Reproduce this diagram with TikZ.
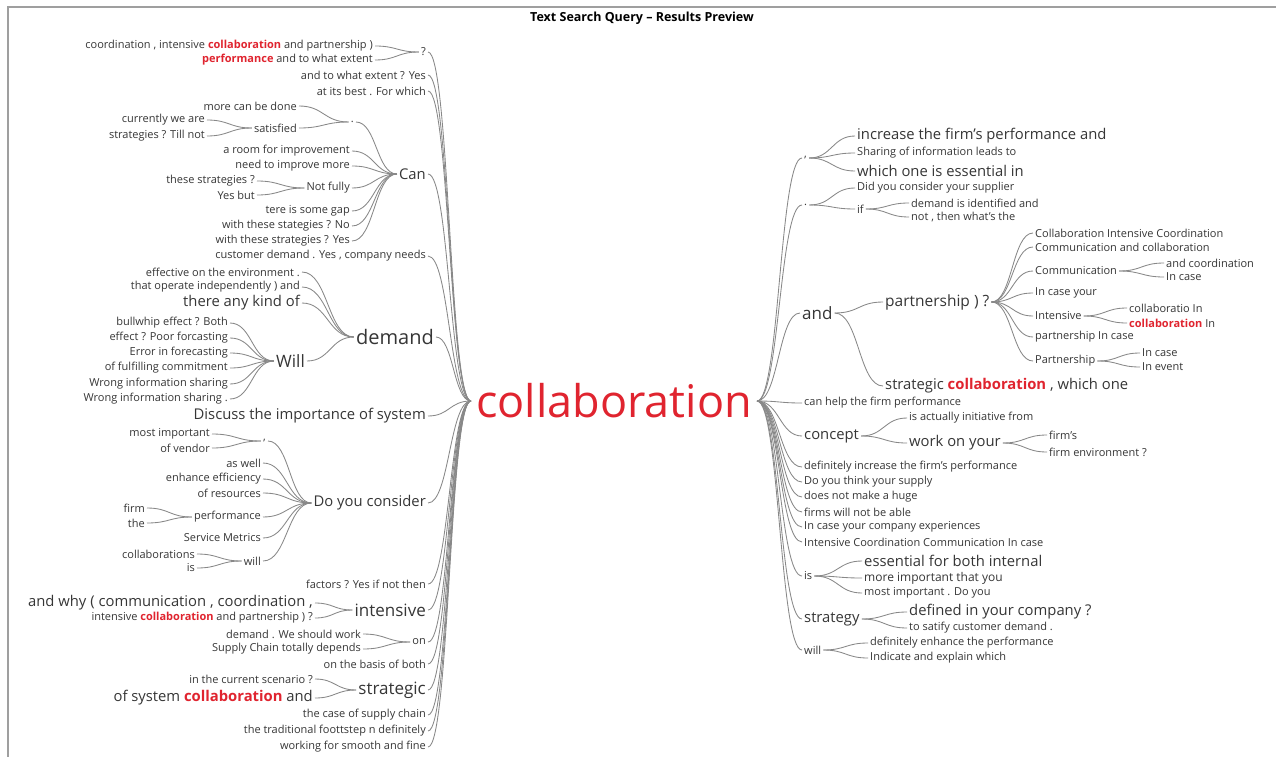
\documentclass[tikz,border=0pt]{standalone}
\usepackage{fontspec}
\setmainfont{Open Sans}
\usetikzlibrary{calc}
\definecolor{ink}{HTML}{363636}
\definecolor{hot}{HTML}{E0242F}
\definecolor{wire}{HTML}{888888}
\newcommand\hit[1]{{\color{hot}\bfseries #1}}
\begin{document}
\begin{tikzpicture}[x=1pt, y=-1pt,
    every node/.style={inner sep=2pt, text=ink, font=\fontsize{11}{13}\selectfont},
    sb/.style={font=\fontsize{12}{14}\selectfont},
    sc/.style={font=\fontsize{14.8}{17}\selectfont},
    sd/.style={font=\fontsize{17}{19}\selectfont},
    se/.style={font=\fontsize{20}{22}\selectfont},
    lt/.style={anchor=east}, rt/.style={anchor=west},
    tree/.style={every edge/.style={draw=wire, line width=.85pt,
      to path={.. controls ($(\tikztostart)!.5!(\tikztostart-|\tikztotarget)$) and ($(\tikztotarget)!.5!(\tikztotarget-|\tikztostart)$) .. (\tikztotarget)}}}]
  \useasboundingbox (0,0) rectangle (1276,757);
  \fill[white] (0,0) rectangle (1276,757);
  \draw[gray!75, line width=1.5pt] (8,757) -- (8,7) -- (1276,7);
  \node[font=\bfseries\fontsize{12.5}{14}\selectfont, text=black] (title) at (642,18) {Text Search Query -- Results Preview};
  % root
  \node[text=hot, inner sep=5pt, font=\fontsize{45}{50}\selectfont] (root) at (614,401) {collaboration};

  % left side, first level
  \node[lt] (q) at (428,52) {?};
  \node[lt] (l2) at (428,75) {and to what extent ? Yes};
  \node[lt] (l3) at (428,91) {at its best . For which};
  \node[lt,sc] (can) at (428,174) {Can};
  \node[lt] (l5) at (428,256) {customer demand . Yes , company needs};
  \node[lt,se] (dem) at (436,337) {demand};
  \node[lt,sc] (l7) at (428,416) {Discuss the importance of system};
  \node[lt,sc] (dyc) at (428,503) {Do you consider};
  \node[lt] (l9) at (428,584) {factors ? Yes if not then};
  \node[lt,sd] (int) at (428,610) {intensive};
  \node[lt] (on) at (428,642) {on};
  \node[lt] (l12) at (428,664) {on the basis of both};
  \node[lt,sd] (str) at (428,690) {strategic};
  \node[lt] (l14) at (428,715) {the case of supply chain};
  \node[lt] (l15) at (428,731) {the traditional foottstep n definitely};
  \node[lt] (l16) at (428,747) {working for smooth and fine};
  \path[tree] (root.west) edge (q.east) edge (l2.east) edge (l3.east) edge (can.east)
    edge (l5.east) edge (dem.east) edge (l7.east) edge (dyc.east) edge (l9.east)
    edge (int.east) edge (on.east) edge (l12.east) edge (str.east) edge (l14.east)
    edge (l15.east) edge (l16.east);

  % under ?
  \node[lt] (q1) at (375,46) {coordination , intensive \hit{collaboration} and partnership )};
  \node[lt] (q2) at (375,60) {\hit{performance} and to what extent};
  \path[tree] (q.west) edge (q1.east) edge (q2.east);

  % under Can
  \node[lt] (dot) at (356,122) {.};
  \node[lt] (c2) at (352,151) {a room for improvement};
  \node[lt] (c3) at (352,166) {need to improve more};
  \node[lt] (nf) at (352,188) {Not fully};
  \node[lt] (c5) at (352,211) {tere is some gap};
  \node[lt] (c6) at (352,226) {with these stategies ? No};
  \node[lt] (c7) at (352,241) {with these strategies ? Yes};
  \path[tree] (can.west) edge (dot.east) edge (c2.east) edge (c3.east) edge (nf.east)
    edge (c5.east) edge (c6.east) edge (c7.east);
  \node[lt] (d1) at (299,106) {more can be done};
  \node[lt] (sat) at (299,128) {satisfied};
  \path[tree] (dot.west) edge (d1.east) edge (sat.east);
  \node[lt] (s1) at (207,120) {currently we are};
  \node[lt] (s2) at (207,136) {strategies ? Till not};
  \path[tree] (sat.west) edge (s1.east) edge (s2.east);
  \node[lt] (n1) at (257,181) {these strategies ?};
  \node[lt] (n2) at (257,195) {Yes but};
  \path[tree] (nf.west) edge (n1.east) edge (n2.east);

  % under demand
  \node[lt] (m1) at (302,272) {effective on the environment .};
  \node[lt] (m2) at (302,287) {that operate independently ) and};
  \node[lt,sc] (m3) at (302,303) {there any kind of};
  \node[lt,sd] (will) at (307,361) {Will};
  \path[tree] (dem.west) edge (m1.east) edge (m2.east) edge (m3.east) edge (will.east);
  \node[lt] (w1) at (230,323) {bullwhip effect ? Both};
  \node[lt] (w2) at (230,338) {effect ? Poor forcasting};
  \node[lt] (w3) at (230,353) {Error in forecasting};
  \node[lt] (w4) at (230,368) {of fulfilling commitment};
  \node[lt] (w5) at (230,384) {Wrong information sharing};
  \node[lt] (w6) at (230,399) {Wrong information sharing .};
  \path[tree] (will.west) edge (w1.east) edge (w2.east) edge (w3.east) edge (w4.east)
    edge (w5.east) edge (w6.east);

  % under Do you consider
  \node[lt] (cm) at (268,441) {,};
  \node[lt] (y2) at (263,463) {as well};
  \node[lt] (y3) at (263,479) {enhance efficiency};
  \node[lt] (y4) at (263,493) {of resources};
  \node[lt] (perf) at (263,517) {performance};
  \node[lt] (y6) at (263,538) {Service Metrics};
  \node[lt] (wl) at (263,561) {will};
  \path[tree] (dyc.west) edge (cm.east) edge (y2.east) edge (y3.east) edge (y4.east)
    edge (perf.east) edge (y6.east) edge (wl.east);
  \node[lt] (k1) at (212,434) {most important};
  \node[lt] (k2) at (212,448) {of vendor};
  \path[tree] (cm.west) edge (k1.east) edge (k2.east);
  \node[lt] (p1) at (147,508) {firm};
  \node[lt] (p2) at (147,523) {the};
  \path[tree] (perf.west) edge (p1.east) edge (p2.east);
  \node[lt] (v1) at (197,554) {collaborations};
  \node[lt] (v2) at (197,568) {is};
  \path[tree] (wl.west) edge (v1.east) edge (v2.east);

  % under intensive, on, strategic
  \node[lt,sc] (i1) at (315,603) {and why ( communication , coordination ,};
  \node[lt] (i2) at (315,618) {intensive \hit{collaboration} and partnership ) ?};
  \path[tree] (int.west) edge (i1.east) edge (i2.east);
  \node[lt] (o1) at (363,634) {demand . We should work};
  \node[lt] (o2) at (363,649) {Supply Chain totally depends};
  \path[tree] (on.west) edge (o1.east) edge (o2.east);
  \node[lt] (t1) at (315,679) {in the current scenario ?};
  \node[lt,sc] (t2) at (315,698) {of system \hit{collaboration} and};
  \path[tree] (str.west) edge (t1.east) edge (t2.east);

  % right side, first level
  \node[rt] (cmr) at (802,158) {,};
  \node[rt] (dtr) at (802,205) {.};
  \node[rt,sd] (and) at (800,313) {and};
  \node[rt] (r4) at (802,403) {can help the firm performance};
  \node[rt,sc] (con) at (802,436) {concept};
  \node[rt] (r6) at (802,467) {definitely increase the firm's performance};
  \node[rt] (r7) at (802,482) {Do you think your supply};
  \node[rt] (r8) at (802,497) {does not make a huge};
  \node[rt] (r9) at (802,512) {firms will not be able};
  \node[rt] (r10) at (802,527) {In case your company experiences};
  \node[rt] (r11) at (802,542) {Intensive Coordination Communication In case};
  \node[rt] (is) at (802,576) {is};
  \node[rt,sc] (sty) at (802,619) {strategy};
  \node[rt] (wil) at (802,650) {will};
  \path[tree] (root.east) edge (cmr.west) edge (dtr.west) edge (and.west) edge (r4.west)
    edge (con.west) edge (r6.west) edge (r7.west) edge (r8.west) edge (r9.west)
    edge (r10.west) edge (r11.west) edge (is.west) edge (sty.west) edge (wil.west);

  % under , and .
  \node[rt,sc] (a1) at (855,136) {increase the firm's performance and};
  \node[rt] (a2) at (855,153) {Sharing of information leads to};
  \node[rt,sc] (a3) at (855,171) {which one is essential in};
  \path[tree] (cmr.east) edge (a1.west) edge (a2.west) edge (a3.west);
  \node[rt] (b1) at (855,188) {Did you consider your supplier};
  \node[rt] (if) at (855,209) {if};
  \path[tree] (dtr.east) edge (b1.west) edge (if.west);
  \node[rt] (f1) at (909,203) {demand is identified and};
  \node[rt] (f2) at (909,217) {not , then what's the};
  \path[tree] (if.east) edge (f1.west) edge (f2.west);

  % under and
  \node[rt,font=\fontsize{15.5}{18}\selectfont] (pts) at (883,302) {partnership ) ?};
  \node[rt,sc] (e2) at (883,386) {strategic \hit{collaboration} , which one};
  \path[tree] (and.east) edge (pts.west) edge (e2.west);
  \node[rt] (g1) at (1033,233) {Collaboration Intensive Coordination};
  \node[rt] (g2) at (1033,247) {Communication and collaboration};
  \node[rt] (com) at (1033,271) {Communication};
  \node[rt] (g4) at (1033,293) {In case your};
  \node[rt] (inr) at (1033,316) {Intensive};
  \node[rt] (g6) at (1033,337) {partnership In case};
  \node[rt] (par) at (1033,361) {Partnership};
  \path[tree] (pts.east) edge (g1.west) edge (g2.west) edge (com.west) edge (g4.west)
    edge (inr.west) edge (g6.west) edge (par.west);
  \node[rt] (h1) at (1164,263) {and coordination};
  \node[rt] (h2) at (1164,277) {In case};
  \path[tree] (com.east) edge (h1.west) edge (h2.west);
  \node[rt] (j1) at (1127,308) {collaboratio In};
  \node[rt] (j2) at (1127,323) {\hit{collaboration} In};
  \path[tree] (inr.east) edge (j1.west) edge (j2.west);
  \node[rt] (u1) at (1140,353) {In case};
  \node[rt] (u2) at (1140,367) {In event};
  \path[tree] (par.east) edge (u1.west) edge (u2.west);

  % under concept, is, strategy, will
  \node[rt] (x1) at (907,418) {is actually initiative from};
  \node[rt,sc] (wo) at (907,443) {work on your};
  \path[tree] (con.east) edge (x1.west) edge (wo.west);
  \node[rt] (z1) at (1047,435) {firm's};
  \node[rt] (z2) at (1047,452) {firm environment ?};
  \path[tree] (wo.east) edge (z1.west) edge (z2.west);
  \node[rt,sc] (e1) at (862,561) {essential for both internal};
  \node[rt,sb] (e3) at (862,578) {more important that you};
  \node[rt] (e4) at (862,593) {most important . Do you};
  \path[tree] (is.east) edge (e1.west) edge (e3.west) edge (e4.west);
  \node[rt,sc] (st1) at (907,612) {defined in your company ?};
  \node[rt] (st2) at (907,628) {to satify customer demand .};
  \path[tree] (sty.east) edge (st1.west) edge (st2.west);
  \node[rt] (wi1) at (868,643) {definitely enhance the performance};
  \node[rt] (wi2) at (868,658) {Indicate and explain which};
  \path[tree] (wil.east) edge (wi1.west) edge (wi2.west);
\end{tikzpicture}
\end{document}
